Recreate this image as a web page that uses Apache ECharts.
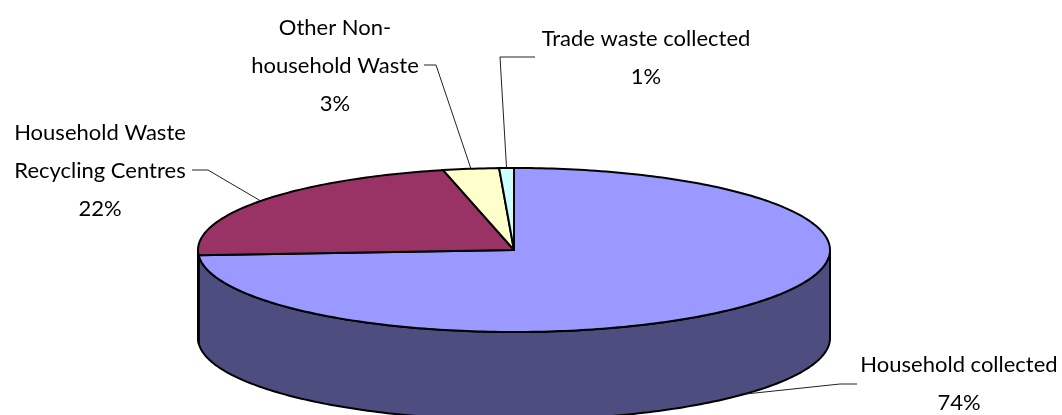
<!DOCTYPE html>
<html><head><meta charset="utf-8">
<script src="https://cdn.jsdelivr.net/npm/echarts@6/dist/echarts.min.js"></script>
<style>html,body{margin:0;padding:0;background:#fff}#c{width:1062px;height:415px}</style>
</head><body><div id="c"></div>
<script>
// ---- data ----
const categories = ['Household collected', 'Household Waste\nRecycling Centres', 'Other Non-\nhousehold Waste', 'Trade waste collected'];
const values = [74.0, 22.4, 2.85, 0.75];

// ---- styles / layout ----
const topColors = ['#9999FF', '#993366', '#FFFFCC', '#CCFFFF'];
const sideColors = ['#4D4D80', '#4D1A33', '#80806A', '#6A8080'];
const labelLayout = [
  {tx: 959, ty: 384, line: [[857, 384], [840, 384]]},
  {tx: 100, ty: 171, line: [[192, 170], [208, 170]]},
  {tx: 335, ty: 66, line: [[424, 65], [436, 65]]},
  {tx: 646, ty: 58, line: [[535, 57], [500, 57]]}
];
const geo = {cx: 514, cy: 250, rx: 316, ry: 82, depth: 88};

const total = values.reduce((a, b) => a + b, 0);
const starts = [];
let acc = 0;
values.forEach(v => { starts.push(acc / total * Math.PI * 2); acc += v; });

function P(t, dz) {
  return [geo.cx + geo.rx * Math.sin(t), geo.cy - geo.ry * Math.cos(t) + dz];
}
function arc(a, b, dz) {
  const pts = [];
  const n = Math.max(2, Math.ceil((b - a) / (Math.PI / 180)));
  for (let i = 0; i <= n; i++) pts.push(P(a + (b - a) * i / n, dz));
  return pts;
}

function renderItem(params, api) {
  const i = params.dataIndex;
  const v = api.value(0);
  const a = starts[i];
  const b = a + v / total * Math.PI * 2;
  const children = [];
  // side wall (front half: angle between 90 and 270 deg)
  const s = Math.max(a, Math.PI / 2), e = Math.min(b, Math.PI * 1.5);
  if (e > s) {
    const pts = arc(s, e, 0).concat(arc(s, e, geo.depth).reverse());
    children.push({type: 'polygon', shape: {points: pts},
      style: {fill: sideColors[i], stroke: '#000', lineWidth: 2, lineJoin: 'round'}});
  }
  // top face
  const topPts = [[geo.cx, geo.cy]].concat(arc(a, b, 0));
  children.push({type: 'polygon', shape: {points: topPts},
    style: {fill: topColors[i], stroke: '#000', lineWidth: 2, lineJoin: 'round'}});
  // leader line + label
  const mid = (a + b) / 2;
  const anchor = Math.cos(mid) < 0 ? P(mid, geo.depth) : P(mid, 0);
  const L = labelLayout[i];
  children.push({type: 'polyline', z2: 5, shape: {points: [L.line[0], L.line[1], anchor]},
    style: {stroke: '#222', lineWidth: 1, fill: null}});
  const pct = Math.round(v / total * 100) + '%';
  children.push({type: 'text', z2: 6, style: {
    text: categories[i] + '\n' + pct, x: L.tx, y: L.ty,
    align: 'center', verticalAlign: 'middle',
    fontFamily: 'Lato', fontSize: 22, lineHeight: 38, fill: '#000'}});
  return {type: 'group', children};
}

const chart = echarts.init(document.getElementById('c'), null, {renderer: 'canvas'});
chart.setOption({
  animation: false,
  backgroundColor: '#fff',
  series: [{
    type: 'custom',
    coordinateSystem: 'none',
    renderItem,
    data: values.map(v => [v])
  }]
});
</script></body></html>
